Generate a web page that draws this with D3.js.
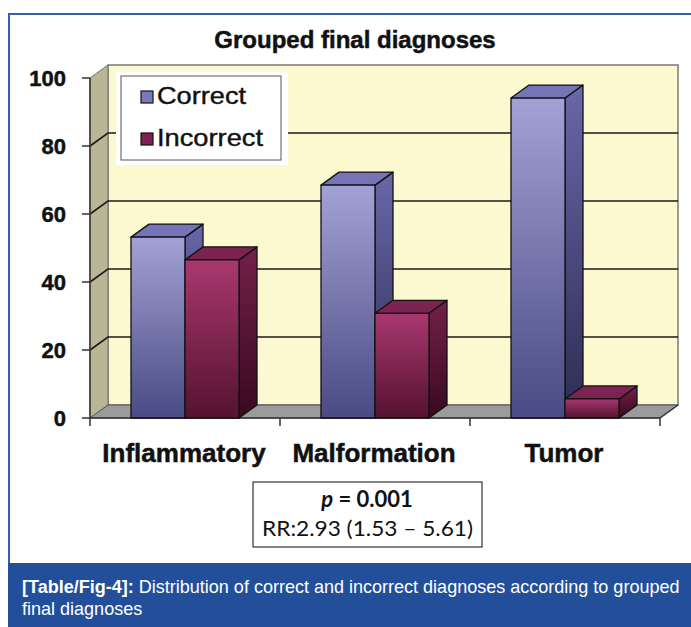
<!DOCTYPE html>
<html><head><meta charset="utf-8">
<script src="https://cdn.jsdelivr.net/npm/d3@7"></script>
<style>html,body{margin:0;padding:0;background:#fff;}svg{display:block;}</style>
</head><body>
<svg id="c" width="691" height="627"></svg>
<script>
const categories = ["Inflammatory", "Malformation", "Tumor"];
const seriesNames = ["Correct", "Incorrect"];
const correctValues = [53.2, 68.5, 94.1];
const incorrectValues = [46.5, 30.8, 5.6];
const yTickValues = [0, 20, 40, 60, 80, 100];
const titleText = "Grouped final diagnoses";
const statLine1 = "= 0.001";
const statLine2 = "RR:2.93 (1.53 \u2013 5.61)";
const captionBold = "[Table/Fig-4]:";
const captionLine1 = " Distribution of correct and incorrect diagnoses according to grouped";
const captionLine2 = "final diagnoses";

const series = [correctValues, incorrectValues];
const svg = d3.select("#c");
const defs = svg.append("defs");

// layout
const x0 = 90, x1 = 660, yBase = 418, yTop = 78, dx = 18, dy = -13;
const y = d3.scaleLinear().domain([0, 100]).range([yBase, yTop]);
const xb = d3.scaleBand().domain(categories).range([x0, x1]).padding(0);
const xs = d3.scaleBand().domain(seriesNames).range([41, 149]).padding(0);

function grad(id, c1, c2) {
  const g = defs.append("linearGradient").attr("id", id).attr("x1", 0).attr("y1", 0).attr("x2", 0).attr("y2", 1);
  g.append("stop").attr("offset", "0%").attr("stop-color", c1);
  g.append("stop").attr("offset", "100%").attr("stop-color", c2);
}
grad("cf", "#a2a2d6", "#4a4a84");
grad("cs", "#6868aa", "#2c2c52");
grad("if", "#a8386f", "#551230");
grad("is", "#74204a", "#380a20");
const colors = {
  front: ["url(#cf)", "url(#if)"],
  side: ["url(#cs)", "url(#is)"],
  top: ["#7474b6", "#7c2352"],
  swatch: ["#7a7abb", "#7e2150"]
};

// frame
svg.append("rect").attr("x", 9).attr("y", 14).attr("width", 700).attr("height", 560)
  .attr("fill", "#fff").attr("stroke", "#3560ad").attr("stroke-width", 2);
svg.append("rect").attr("x", 8).attr("y", 563).attr("width", 683).attr("height", 64).attr("fill", "#234f9a");

const heavy = sel => sel.attr("stroke", "#111").attr("stroke-width", 0.5);

// title
heavy(svg.append("text").attr("x", 355).attr("y", 48).attr("text-anchor", "middle")
  .attr("font-family", "Liberation Sans, Arial, sans-serif").attr("font-weight", "bold")
  .attr("font-size", 24).attr("fill", "#111").text(titleText));

const line = d3.line();
const poly = pts => line(pts) + "Z";

// walls
svg.append("path").attr("d", poly([[x0 + dx, y(100) + dy], [x1 + dx, y(100) + dy], [x1 + dx, y(0) + dy], [x0 + dx, y(0) + dy]]))
  .attr("fill", "#fcf9d1").attr("stroke", "#7a7a7a").attr("stroke-width", 1.5);
svg.append("path").attr("d", poly([[x0, y(100)], [x0 + dx, y(100) + dy], [x0 + dx, y(0) + dy], [x0, y(0)]]))
  .attr("fill", "#b8b694").attr("stroke", "#6f6f6f").attr("stroke-width", 1);
svg.append("path").attr("d", poly([[x0, y(0)], [x1, y(0)], [x1 + dx, y(0) + dy], [x0 + dx, y(0) + dy]]))
  .attr("fill", "#9b9b9b").attr("stroke", "#555").attr("stroke-width", 1);

// gridlines
const grid = svg.append("g").attr("stroke", "#1a1a1a").attr("stroke-width", 1.6).attr("fill", "none");
yTickValues.filter(t => t > 0 && t < 100).forEach(t => {
  grid.append("path").attr("d", line([[x0, y(t)], [x0 + dx, y(t) + dy], [x1 + dx, y(t) + dy]]));
});

// axes
const ax = svg.append("g").attr("stroke", "#333").attr("stroke-width", 1.5);
ax.append("line").attr("x1", x0).attr("x2", x0).attr("y1", y(100)).attr("y2", y(0));
yTickValues.forEach(t => ax.append("line").attr("x1", x0 - 8).attr("x2", x0).attr("y1", y(t)).attr("y2", y(t)));
ax.append("line").attr("x1", x0).attr("x2", x1).attr("y1", y(0)).attr("y2", y(0));
ax.append("line").attr("x1", x1).attr("x2", x1 + dx).attr("y1", y(0)).attr("y2", y(0) + dy);
xb.domain().forEach(c => ax.append("line").attr("x1", xb(c)).attr("x2", xb(c)).attr("y1", y(0)).attr("y2", y(0) + 8));
ax.append("line").attr("x1", x1).attr("x2", x1).attr("y1", y(0)).attr("y2", y(0) + 8);

heavy(svg.append("g").selectAll("text").data(yTickValues).join("text")
  .attr("x", 66).attr("y", d => y(d) + 8).attr("text-anchor", "end")
  .attr("font-family", "Liberation Sans, Arial, sans-serif").attr("font-weight", "bold")
  .attr("font-size", 22).attr("fill", "#111").text(d => d));

heavy(svg.append("g").selectAll("text").data(categories).join("text")
  .attr("x", d => xb(d) + xb.bandwidth() / 2 - 1).attr("y", 462).attr("text-anchor", "middle")
  .attr("font-family", "Liberation Sans, Arial, sans-serif").attr("font-weight", "bold")
  .attr("font-size", 26).attr("fill", "#111").text(d => d));

// bars
const bars = svg.append("g").attr("stroke", "#111").attr("stroke-width", 1.3).attr("stroke-linejoin", "round");
categories.forEach((c, ci) => {
  seriesNames.forEach((s, si) => {
    const v = series[si][ci];
    const bx = xb(c) + xs(s), w = xs.bandwidth(), top = y(v), bot = y(0);
    bars.append("path").attr("d", poly([[bx + w, top], [bx + w + dx, top + dy], [bx + w + dx, bot + dy], [bx + w, bot]]))
      .attr("fill", colors.side[si]);
    bars.append("path").attr("d", poly([[bx, top], [bx + dx, top + dy], [bx + w + dx, top + dy], [bx + w, top]]))
      .attr("fill", colors.top[si]);
    bars.append("rect").attr("x", bx).attr("y", top).attr("width", w).attr("height", bot - top)
      .attr("fill", colors.front[si]);
  });
});

// legend
const lg = svg.append("g");
lg.append("rect").attr("x", 116).attr("y", 72).attr("width", 172).attr("height", 93).attr("fill", "#fff");
lg.append("rect").attr("x", 121).attr("y", 76).attr("width", 160).attr("height", 84)
  .attr("fill", "#fff").attr("stroke", "#555").attr("stroke-width", 1);
const legendW = [89, 106];
seriesNames.forEach((s, i) => {
  const yy = 104 + i * 42;
  lg.append("rect").attr("x", 141).attr("y", yy - 13).attr("width", 12).attr("height", 12)
    .attr("fill", colors.swatch[i]).attr("stroke", "#111").attr("stroke-width", 1.2);
  lg.append("text").attr("x", 157).attr("y", yy).attr("font-family", "Liberation Sans, Arial, sans-serif")
    .attr("font-size", 24).attr("fill", "#111").attr("stroke", "#111").attr("stroke-width", 0.4)
    .attr("textLength", legendW[i]).attr("lengthAdjust", "spacingAndGlyphs").text(s);
});

// stat box
svg.append("rect").attr("x", 253).attr("y", 482).attr("width", 229).attr("height", 65)
  .attr("fill", "#fff").attr("stroke", "#333").attr("stroke-width", 1.2);
const t1 = svg.append("text").attr("x", 367).attr("y", 507).attr("text-anchor", "middle")
  .attr("font-family", "Lato, 'Open Sans', sans-serif").attr("font-size", 22).attr("font-weight", "bold").attr("fill", "#111");
t1.append("tspan").attr("font-style", "italic").text("p");
t1.append("tspan").text(" " + statLine1);
svg.append("text").attr("x", 262).attr("y", 536)
  .attr("font-family", "Lato, 'Open Sans', sans-serif").attr("font-size", 21).attr("fill", "#111")
  .attr("textLength", 211).attr("lengthAdjust", "spacingAndGlyphs").text(statLine2);

// caption
function squeeze(sel, ax0, ay0, target) {
  const w = sel.node().getBBox().width;
  sel.attr("transform", `translate(${ax0},${ay0}) scale(${target / w},1)`);
  return target / w;
}
const cap1 = svg.append("text").attr("x", 0).attr("y", 0)
  .attr("font-family", "Liberation Sans, Arial, sans-serif").attr("font-size", 18).attr("fill", "#fff");
cap1.append("tspan").attr("font-weight", "bold").text(captionBold);
cap1.append("tspan").text(captionLine1);
const k = squeeze(cap1, 22, 593, 658);
svg.append("text").attr("x", 0).attr("y", 0)
  .attr("font-family", "Liberation Sans, Arial, sans-serif").attr("font-size", 18).attr("fill", "#fff")
  .attr("transform", `translate(22,615) scale(${k},1)`).text(captionLine2);
</script>
</body></html>
